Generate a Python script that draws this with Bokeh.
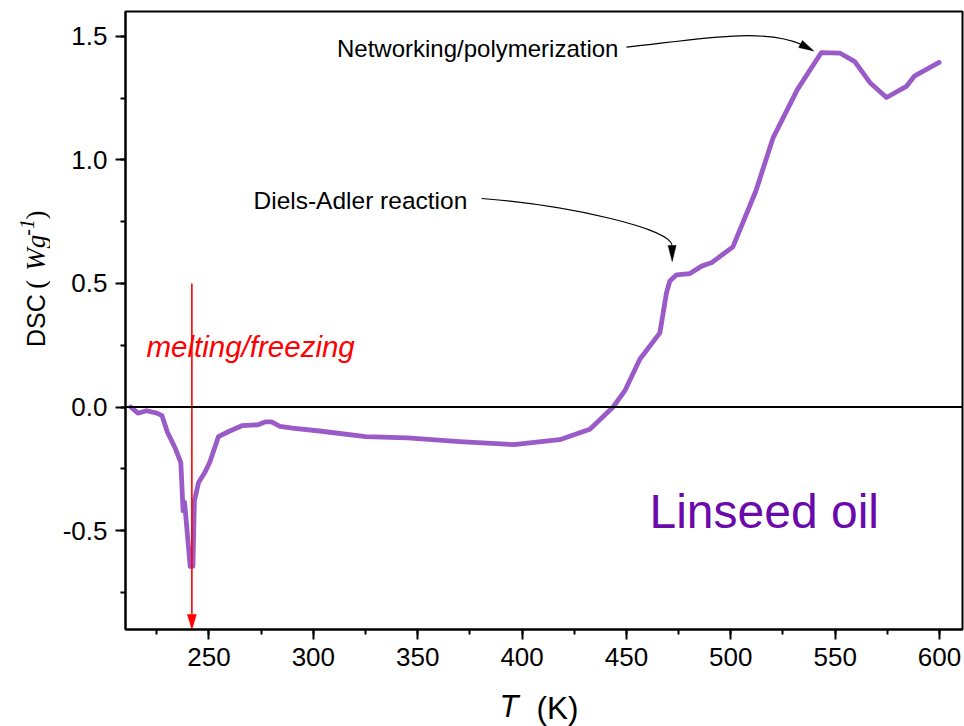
import math

from bokeh.plotting import figure
from bokeh.layouts import row, column
from bokeh.models import (Label, Span, Range1d, SingleIntervalTicker,
                          PrintfTickFormatter, ColumnDataSource)
from bokeh.embed import file_html
from bokeh.resources import INLINE

# DSC trace of linseed oil: temperature (K) and heat flow (W/g)
temperature = [212.5, 216.0, 220.0, 225.0, 227.5, 230.0, 234.0, 236.5, 237.6, 238.3,
               241.0, 242.3, 243.0, 245.0, 248.0, 250.5, 254.5, 260.0, 266.0, 273.5,
               277.0, 280.0, 284.0, 290.0, 303.0, 325.0, 345.0, 370.0, 396.0, 418.0,
               432.5, 443.6, 449.2, 456.4, 466.0, 469.2, 470.8, 474.0, 480.4, 486.0,
               491.0, 501.0, 512.0, 520.3, 532.0, 543.4, 552.2, 559.4, 566.6, 574.6,
               584.1, 588.1, 599.8]
dsc = [0.000, -0.025, -0.015, -0.025, -0.035, -0.100, -0.170, -0.225, -0.420, -0.385,
       -0.645, -0.645, -0.380, -0.305, -0.265, -0.220, -0.120, -0.097, -0.075, -0.072,
       -0.060, -0.060, -0.078, -0.085, -0.097, -0.120, -0.125, -0.140, -0.152, -0.132,
       -0.090, 0.000, 0.065, 0.193, 0.300, 0.463, 0.510, 0.535, 0.540, 0.570,
       0.585, 0.648, 0.874, 1.090, 1.286, 1.434, 1.432, 1.397, 1.313, 1.252,
       1.297, 1.340, 1.394]

# annotation anchors (data units)
melt_T = 241.8
melt_top = 0.5
diels_curve = dict(x0=[380.6], y0=[0.8435], cx0=[423.2], cy0=[0.8152],
                   cx1=[471.1], cy1=[0.7222], x1=[471.87], y1=[0.6534])
diels_tip = (471.92, 0.5887)
net_curve = dict(x0=[450.0], y0=[1.4556], cx0=[480.7], cy0=[1.4827],
                 cx1=[514.7], cy1=[1.5393], x1=[533.87], y1=[1.4665])
net_tip = (539.76, 1.4402)

W, H = 964, 726
LEFT_STRIP = 50          # width of the strip holding the rotated y title
BOTTOM_STRIP = 37        # height of the strip holding the x title
X0, X1 = 210, 611
Y0, Y1 = -0.9, 1.6
FW, FH = 837, 618
FRAME_LEFT, FRAME_TOP = 125, 11
kx = FW / (X1 - X0)   # px per kelvin
ky = FH / (Y1 - Y0)   # px per W/g

SANS = "Liberation Sans"
SERIF = "Liberation Serif"
LINE_COLOR = "#9a5bc8"

main_w = W - LEFT_STRIP
main_h = H - BOTTOM_STRIP
p = figure(width=main_w, height=main_h,
           x_range=Range1d(X0, X1), y_range=Range1d(Y0, Y1),
           output_backend="svg", toolbar_location=None,
           min_border_left=FRAME_LEFT - LEFT_STRIP,
           min_border_right=main_w - (FRAME_LEFT - LEFT_STRIP) - FW,
           min_border_top=FRAME_TOP,
           min_border_bottom=main_h - FRAME_TOP - FH,
           background_fill_color="white", border_fill_color="white")

p.xgrid.visible = False
p.ygrid.visible = False
p.outline_line_color = "black"
p.outline_line_width = 2
p.outline_line_alpha = 1

for ax in (p.xaxis[0], p.yaxis[0]):
    ax.axis_line_color = "black"
    ax.axis_line_width = 2
    ax.major_tick_line_width = 2
    ax.minor_tick_line_width = 2
    ax.major_tick_in = 0
    ax.major_tick_out = 10
    ax.minor_tick_in = 0
    ax.minor_tick_out = 5
    ax.major_label_text_font = SANS
    ax.major_label_text_font_size = "26px"
    ax.major_label_text_color = "black"
    ax.major_label_standoff = 8

p.xaxis.ticker = SingleIntervalTicker(interval=50, num_minor_ticks=2)
p.yaxis.ticker = SingleIntervalTicker(interval=0.5, num_minor_ticks=2)
p.yaxis.formatter = PrintfTickFormatter(format="%.1f")
p.xaxis.formatter = PrintfTickFormatter(format="%d")

# zero baseline
p.add_layout(Span(location=0, dimension="width", line_color="black", line_width=2))

# DSC curve
src = ColumnDataSource(dict(T=temperature, dsc=dsc))
p.line("T", "dsc", source=src, line_color=LINE_COLOR, line_width=4.8,
       line_join="round", line_cap="round")


def head(tip, base, length, width):
    """Filled triangular arrow head with its point at tip, aimed from base."""
    dx = (tip[0] - base[0]) * kx
    dy = (tip[1] - base[1]) * ky
    n = math.hypot(dx, dy)
    ux, uy = dx / n, dy / n
    bx = tip[0] - ux * length / kx
    by = tip[1] - uy * length / ky
    nx, ny = -uy, ux
    xs = [tip[0], bx + nx * width / 2 / kx, bx - nx * width / 2 / kx]
    ys = [tip[1], by + ny * width / 2 / ky, by - ny * width / 2 / ky]
    return xs, ys


# melting/freezing marker
red_base = Y0 + 15 / ky
p.segment(x0=[melt_T], y0=[melt_top], x1=[melt_T], y1=[red_base],
          line_color="red", line_width=1.6)
hx, hy = head((melt_T, Y0), (melt_T, melt_top), 15, 9)
p.patch(hx, hy, fill_color="red", line_color="red", line_width=0.5)

# curved callouts
p.bezier(source=ColumnDataSource(diels_curve), x0="x0", y0="y0", x1="x1", y1="y1",
         cx0="cx0", cy0="cy0", cx1="cx1", cy1="cy1", line_color="black", line_width=1.2)
hx, hy = head(diels_tip, (diels_curve["x1"][0], diels_curve["y1"][0]), 16, 8)
p.patch(hx, hy, fill_color="black", line_color="black", line_width=0.5)

p.bezier(source=ColumnDataSource(net_curve), x0="x0", y0="y0", x1="x1", y1="y1",
         cx0="cx0", cy0="cy0", cx1="cx1", cy1="cy1", line_color="black", line_width=1.2)
hx, hy = head(net_tip, (net_curve["x1"][0], net_curve["y1"][0]), 15, 8)
p.patch(hx, hy, fill_color="black", line_color="black", line_width=0.5)


def px_T(x):
    return X0 + (x - FRAME_LEFT) / kx


def px_D(y):
    return Y1 - (y - FRAME_TOP) / ky


def label(fig, s, x, y, size, color="black", font=SANS, style="normal", angle=0.0):
    # (x, y) is the start of the text line and the middle of its capitals
    fig.add_layout(Label(x=x, y=y, text=s, text_font=font,
                         text_font_size=f"{size}px", text_font_style=style,
                         text_color=color, text_align="left",
                         text_baseline="middle", angle=angle))


label(p, "melting/freezing", px_T(146), px_D(346), 29.5, color="red", style="italic")
label(p, "Diels-Adler reaction", px_T(253), px_D(199.5), 24.5)
label(p, "Networking/polymerization", px_T(336.5), px_D(47.5), 24)
label(p, "Linseed oil", px_T(649), px_D(511), 48, color="#6a0aaa")


def strip(width, height, x_start, x_end, y_start, y_end):
    """Plain text strip whose data units equal page pixels."""
    f = figure(width=width, height=height,
               x_range=Range1d(x_start, x_end), y_range=Range1d(y_start, y_end),
               output_backend="svg", toolbar_location=None,
               x_axis_location=None, y_axis_location=None,
               min_border_left=0, min_border_right=0,
               min_border_top=0, min_border_bottom=0,
               background_fill_color="white", border_fill_color="white")
    f.outline_line_color = None
    f.xgrid.visible = False
    f.ygrid.visible = False
    return f


# y-axis title: DSC (Wg^-1), reading upward
ytitle = strip(LEFT_STRIP, main_h, 0, LEFT_STRIP, main_h, 0)
up = math.pi / 2
label(ytitle, "DSC", 35.5, 374, 25, angle=up)
label(ytitle, "(", 35.5, 309, 27, font=SERIF, angle=up)
label(ytitle, "Wg", 35.5, 289, 27, font=SERIF, style="italic", angle=up)
label(ytitle, "-1", 26.5, 250, 20, font=SERIF, style="italic", angle=up)
label(ytitle, ")", 35.5, 232, 27, font=SERIF, angle=up)

# x-axis title: T (K), in a full-width strip along the bottom
xtitle = strip(W, BOTTOM_STRIP, 0, W, H, H - BOTTOM_STRIP)
label(xtitle, "T", 499, 706, 31, style="italic")
label(xtitle, "(K)", 536, 707, 31.5)

layout = column(row(ytitle, p, spacing=0), xtitle, spacing=0)
open("out.html", "w").write(file_html(layout, INLINE))
